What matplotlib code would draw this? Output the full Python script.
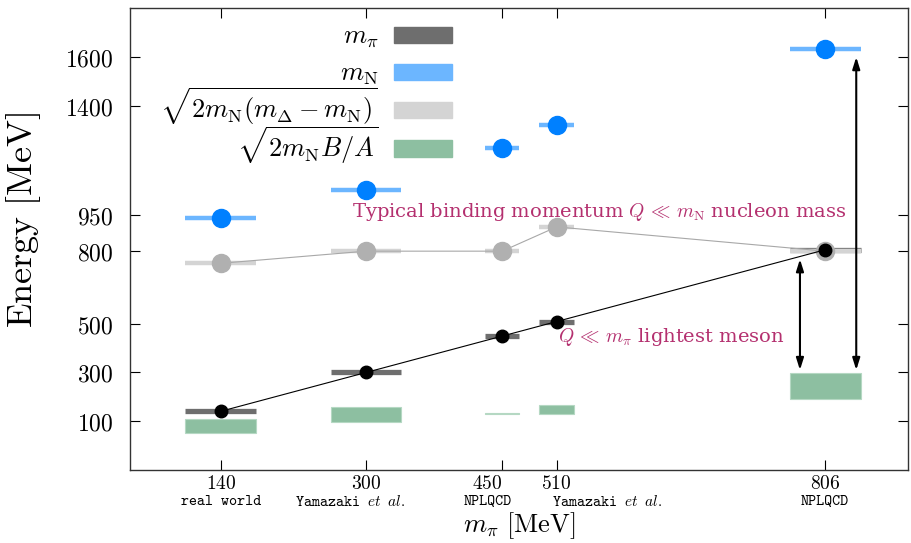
import matplotlib
matplotlib.use("Agg")
from matplotlib import pyplot as plt
from matplotlib.patches import Patch, Rectangle
from matplotlib.legend_handler import HandlerPatch

plt.rcParams['mathtext.fontset'] = 'cm'

# pion masses of the lattice ensembles [MeV]
m_pi = [140, 300, 450, 510, 806]
half_width = [39, 39, 19, 19, 39]
m_n = [938, 1050, 1227, 1321, 1635]
delta_mom = [750, 800, 800, 900, 800]
ba_low = [50, 96, 128, 129, 191]
ba_high = [108, 158, 131, 166, 298]
tick_text = [r'$140$', r'$300$', r'$450$', r'$510$', r'$806$']
sub_text = [r'real world', r'Yamazaki $\mathit{et}$ $\mathit{al.}$', 'NPLQCD',
            r'Yamazaki $\mathit{et}$ $\mathit{al.}$', 'NPLQCD']
sub_pos = [140, 282, 434, 566, 805]
y_ticks = [100, 300, 500, 800, 950, 1400, 1600]

c_pi = '#6e6e6e'
c_nbar = '#6cb6ff'
c_ndot = '#0080ff'
c_dbar = '#d4d4d4'
c_ddot = '#b0b0b0'
c_green = '#8dbfa1'
c_note = '#b4306f'

fig = plt.figure(figsize=(9.11, 5.43), dpi=100)
ax = fig.add_axes([0.1427, 0.1344, 0.854, 0.8517])

widths = [2 * w for w in half_width]
heights = [h - l for h, l in zip(ba_high, ba_low)]
ax.bar(m_pi, heights, bottom=ba_low, width=widths, color=c_green,
       edgecolor='#b5d8c3', linewidth=0.8, zorder=2)

# pion bars sit under the Delta bars (hidden at 806)
ax.errorbar(m_pi, m_pi, xerr=half_width, fmt='none', ecolor=c_pi, elinewidth=3.8, zorder=2.5)

ax.errorbar(m_pi, delta_mom, xerr=half_width, fmt='none', ecolor=c_dbar, elinewidth=3.2, zorder=3)
ax.plot(m_pi, delta_mom, '-', color='#a8a8a8', lw=0.8, zorder=4)
ax.plot(m_pi, delta_mom, 'o', color=c_ddot, ms=13, zorder=5)

ax.errorbar(m_pi, m_n, xerr=half_width, fmt='none', ecolor=c_nbar, elinewidth=3.2, zorder=3)
ax.plot(m_pi, m_n, 'o', color=c_ndot, ms=13, zorder=5)

ax.plot(m_pi, m_pi, '-', color='black', lw=0.8, zorder=7)
ax.plot(m_pi, m_pi, 'o', color='black', ms=9, zorder=8)

arrow = dict(arrowstyle='<|-|>,head_length=0.7,head_width=0.22', color='black', lw=1.5,
             shrinkA=0, shrinkB=0)
ax.annotate('', xy=(778, 310), xytext=(778, 767), arrowprops=arrow, zorder=9)
ax.annotate('', xy=(840, 310), xytext=(840, 1600), arrowprops=arrow, zorder=9)

ax.text(284, 961, r'Typical binding momentum $Q\,\ll\,m_{\rm N}$ nucleon mass', color=c_note,
        fontsize=14, family='DejaVu Serif', va='center', ha='left')
ax.text(512, 446, r'$Q\,\ll\,m_\pi$ lightest meson', color=c_note,
        fontsize=14, family='DejaVu Serif', va='center', ha='left')

ax.set_xlim(40, 897)
ax.set_ylim(-102, 1804)
ax.set_xticks(m_pi)
ax.set_xticklabels(tick_text, fontsize=14)
ax.get_xticklabels()[2].set_horizontalalignment('right')
ax.set_yticks(y_ticks)
ax.set_yticklabels([r'$%d$' % v for v in y_ticks], fontsize=17)
ax.tick_params(direction='in', length=7, width=0.8, top=True, right=True)
ax.tick_params(axis='y', pad=12)
ax.tick_params(axis='x', pad=3)
for s in ax.spines.values():
    s.set_linewidth(1.0)
    s.set_color('#333333')

for x, t in zip(sub_pos, sub_text):
    ax.text(x, -0.053, t, transform=ax.get_xaxis_transform(), ha='center', va='top',
            fontsize=11, family='cmtt10')

ax.set_xlabel(r'$m_\pi\ [\mathrm{MeV}]$', fontsize=19, labelpad=12)
ax.set_ylabel(r'$\mathrm{Energy}\ [\mathrm{MeV}]$', fontsize=26)
ax.yaxis.set_label_coords(-0.112, 0.54)


def flat_box(legend, orig_handle, xdescent, ydescent, width, height, fontsize):
    h = 0.62 * fontsize
    return Rectangle((-xdescent, -ydescent + (height - h) / 2), width, h)


handles = [Patch(color=c_pi), Patch(color=c_nbar), Patch(color=c_dbar), Patch(color=c_green)]
labels = [r'$m_\pi$', r'$m_{\rm N}$', r'$\sqrt{2 m_{\rm N}(m_\Delta - m_{\rm N})}$',
          r'$\sqrt{2 m_{\rm N} B/A}$']
ax.legend(handles, labels, loc='upper right', bbox_to_anchor=(0.414, 0.991), frameon=False,
          markerfirst=False, fontsize=19, handlelength=2.2, handleheight=2.32,
          handletextpad=0.6, labelspacing=-0.35, borderpad=0, borderaxespad=0,
          handler_map={Patch: HandlerPatch(patch_func=flat_box)})

fig.savefig('out.png', dpi=100)
